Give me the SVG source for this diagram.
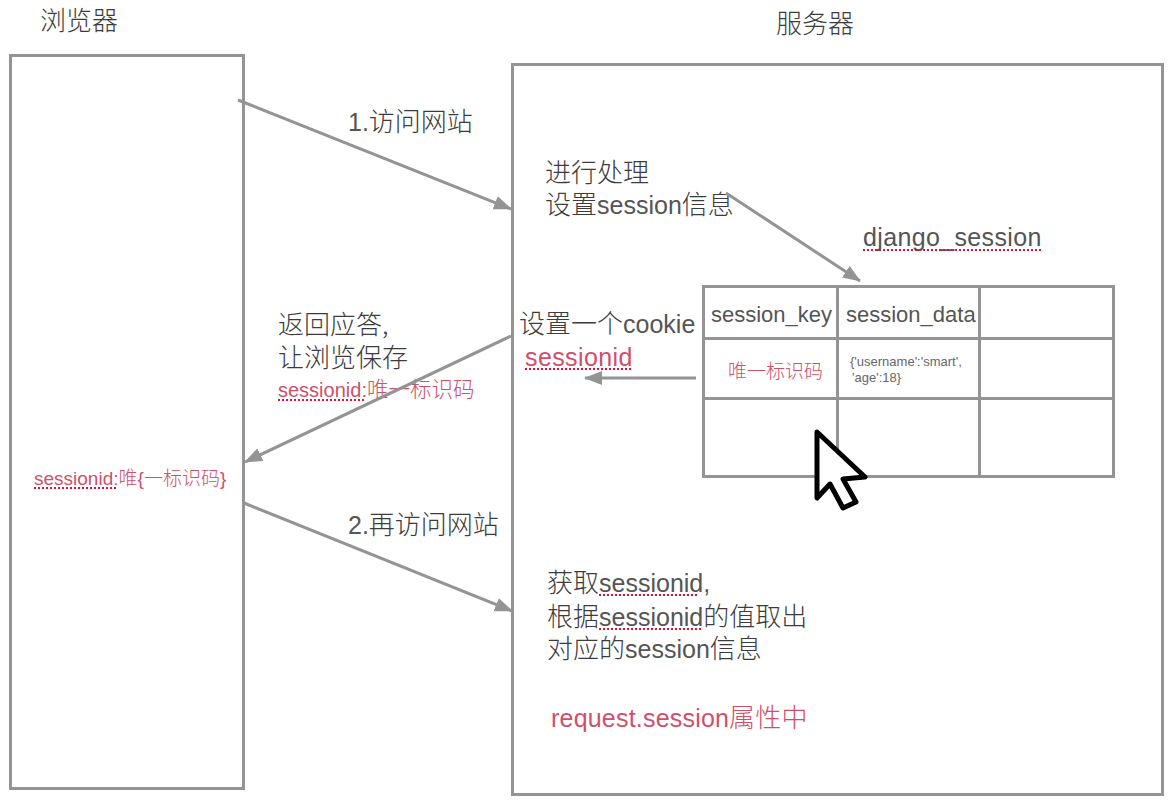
<svg xmlns="http://www.w3.org/2000/svg" width="1174" height="806" viewBox="0 0 1174 806">
<style>
text{font-family:"Liberation Sans","Noto Sans CJK SC",sans-serif;fill:#555;font-size:25px}
.c{font-family:"Noto Sans CJK SC",sans-serif;font-size:26px;font-weight:300;fill:#3c3c3c}
.r,.r .c{fill:#d0506a}
.s19{font-size:19px}
.s19 .c{font-size:19px}
.s20{font-size:20px}
.s20 .c{font-size:21.500px}
.s22{font-size:22px}
.s13{font-size:13px;fill:#666}
.box{fill:#fff;stroke:#949494;stroke-width:3}
.ln{stroke:#949494;stroke-width:3;fill:none}
.sq{stroke:#e0103c;stroke-width:2;stroke-dasharray:2 2;fill:none}
</style>
<defs><marker id="a" markerUnits="userSpaceOnUse" markerWidth="18" markerHeight="14" refX="17" refY="7" orient="auto"><path d="M0 0L18 7L0 14Z" fill="#949494"/></marker></defs>
<rect width="1174" height="806" fill="#fff"/>
<g id="browser"><rect class="box" x="10.500" y="55.500" width="233" height="733"/>
<text x="40" y="30"><tspan class="c">浏览器</tspan></text>
<text class="r s19" x="34" y="485">sessionid:<tspan class="c">唯</tspan>{<tspan class="c">一标识码</tspan>}</text>
<path class="sq" d="M34 488H116"/></g>
<g id="server"><rect class="box" x="512.500" y="64.500" width="650" height="730"/>
<text x="776" y="33"><tspan class="c">服务器</tspan></text>
<text x="545" y="182"><tspan class="c">进行处理</tspan></text>
<text x="545" y="214"><tspan class="c">设置</tspan>session<tspan class="c">信息</tspan></text>
<text x="519" y="333"><tspan class="c">设置一个</tspan>cookie</text>
<text class="r" x="525" y="366" letter-spacing="0.400">sessionid</text>
<path class="sq" d="M525 369H632"/>
<text x="547" y="592"><tspan class="c">获取</tspan>sessionid,</text>
<path class="sq" d="M599 595H699"/>
<text x="547" y="626"><tspan class="c">根据</tspan>sessionid<tspan class="c">的值取出</tspan></text>
<path class="sq" d="M599 629H702"/>
<text x="547" y="658"><tspan class="c">对应的</tspan>session<tspan class="c">信息</tspan></text>
<text class="r" x="551" y="727" letter-spacing="0.200">request.session<tspan class="c">属性中</tspan></text></g>
<g id="table"><text x="863" y="246" letter-spacing="0.350">django_session</text>
<path class="sq" d="M863 250H1041"/>
<rect x="703.500" y="286.500" width="410" height="190" fill="none" stroke="#949494" stroke-width="3"/>
<path class="ln" d="M703 338.500H1113M703 398.500H1113M837.500 286V476M979.500 286V476"/>
<text class="s22" x="711" y="322">session_key</text>
<text class="s22" x="846" y="322">session_data</text>
<text class="r s19" x="728" y="378"><tspan class="c">唯一标识码</tspan></text>
<text class="s13" x="850" y="366">{'username':'smart',</text>
<text class="s13" x="852" y="382">'age':18}</text></g>
<g id="cursor"><path d="M817 432L865 477L843 479L856 502L843 508L830 484L817 498Z" fill="#fff" stroke="#000" stroke-width="5" stroke-linejoin="round"/></g>
<g id="labels"><text x="348" y="131">1.<tspan class="c">访问网站</tspan></text>
<text x="278" y="334"><tspan class="c">返回应答,</tspan></text>
<text x="278" y="367"><tspan class="c">让浏览保存</tspan></text>
<text class="r s20" x="278" y="397">sessionid:<tspan class="c">唯一标识码</tspan></text>
<path class="sq" d="M278 400H366"/>
<text x="348" y="534">2.<tspan class="c">再访问网站</tspan></text></g>
<g id="connectors">
<path class="ln" marker-end="url(#a)" d="M238 100L511 209"/>
<path class="ln" marker-end="url(#a)" d="M726 193L860 281"/>
<path class="ln" marker-end="url(#a)" d="M511 336L245 462"/>
<path class="ln" marker-end="url(#a)" d="M696 378H585"/>
<path class="ln" marker-end="url(#a)" d="M244 503L512 611"/>
</g>
</svg>
